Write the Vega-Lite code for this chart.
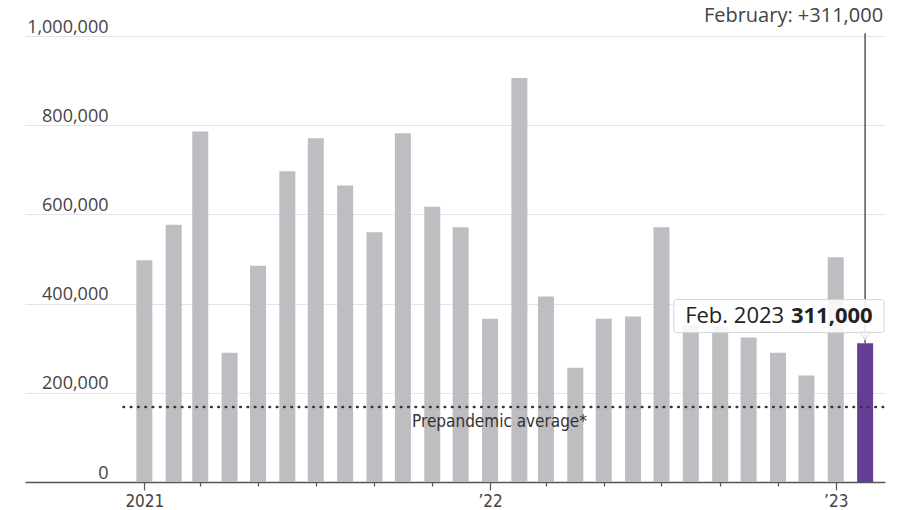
{
  "$schema": "https://vega.github.io/schema/vega-lite/v6.json",
  "width": 860,
  "height": 446,
  "autosize": {"type": "none"},
  "padding": {"left": 25, "top": 36, "right": 15, "bottom": 28},
  "background": "white",
  "config": {"view": {"stroke": null}, "font": "Open Sans"},
  "data": {
    "values": [
      {"date": "2021-01-01T00:00:00", "jobs": 497000},
      {"date": "2021-02-01T00:00:00", "jobs": 577000},
      {"date": "2021-03-01T00:00:00", "jobs": 786000},
      {"date": "2021-04-01T00:00:00", "jobs": 290000},
      {"date": "2021-05-01T00:00:00", "jobs": 485000},
      {"date": "2021-06-01T00:00:00", "jobs": 697000},
      {"date": "2021-07-01T00:00:00", "jobs": 771000},
      {"date": "2021-08-01T00:00:00", "jobs": 665000},
      {"date": "2021-09-01T00:00:00", "jobs": 560000},
      {"date": "2021-10-01T00:00:00", "jobs": 782000},
      {"date": "2021-11-01T00:00:00", "jobs": 617000},
      {"date": "2021-12-01T00:00:00", "jobs": 571000},
      {"date": "2022-01-01T00:00:00", "jobs": 366000},
      {"date": "2022-02-01T00:00:00", "jobs": 906000},
      {"date": "2022-03-01T00:00:00", "jobs": 416000},
      {"date": "2022-04-01T00:00:00", "jobs": 256000},
      {"date": "2022-05-01T00:00:00", "jobs": 366000},
      {"date": "2022-06-01T00:00:00", "jobs": 371000},
      {"date": "2022-07-01T00:00:00", "jobs": 571000},
      {"date": "2022-08-01T00:00:00", "jobs": 352000},
      {"date": "2022-09-01T00:00:00", "jobs": 350000},
      {"date": "2022-10-01T00:00:00", "jobs": 324000},
      {"date": "2022-11-01T00:00:00", "jobs": 290000},
      {"date": "2022-12-01T00:00:00", "jobs": 239000},
      {"date": "2023-01-01T00:00:00", "jobs": 504000},
      {"date": "2023-02-01T00:00:00", "jobs": 311000}
    ]
  },
  "layer": [
    {
      "mark": {"type": "bar", "size": 16},
      "encoding": {
        "x": {
          "field": "date",
          "type": "temporal",
          "scale": {"domain": [{"year": 2020, "month": 8, "date": 28}, {"year": 2023, "month": 2, "date": 22}], "nice": false, "padding": 0},
          "axis": {
            "title": null,
            "grid": false,
            "domain": true,
            "domainColor": "#555555",
            "domainWidth": 1.5,
            "values": [
              {"year": 2021, "month": 1, "date": 1}, {"year": 2021, "month": 2, "date": 1}, {"year": 2021, "month": 3, "date": 1},
              {"year": 2021, "month": 4, "date": 1}, {"year": 2021, "month": 5, "date": 1}, {"year": 2021, "month": 6, "date": 1},
              {"year": 2021, "month": 7, "date": 1}, {"year": 2021, "month": 8, "date": 1}, {"year": 2021, "month": 9, "date": 1},
              {"year": 2021, "month": 10, "date": 1}, {"year": 2021, "month": 11, "date": 1}, {"year": 2021, "month": 12, "date": 1},
              {"year": 2022, "month": 1, "date": 1}, {"year": 2022, "month": 2, "date": 1}, {"year": 2022, "month": 3, "date": 1},
              {"year": 2022, "month": 4, "date": 1}, {"year": 2022, "month": 5, "date": 1}, {"year": 2022, "month": 6, "date": 1},
              {"year": 2022, "month": 7, "date": 1}, {"year": 2022, "month": 8, "date": 1}, {"year": 2022, "month": 9, "date": 1},
              {"year": 2022, "month": 10, "date": 1}, {"year": 2022, "month": 11, "date": 1}, {"year": 2022, "month": 12, "date": 1},
              {"year": 2023, "month": 1, "date": 1}, {"year": 2023, "month": 2, "date": 1}
            ],
            "tickColor": "#555555",
            "tickWidth": 1.2,
            "tickSize": {"condition": {"test": "month(datum.value) == 0", "value": 8}, "value": 4},
            "labelExpr": "month(datum.value) == 0 ? (year(datum.value) == 2021 ? '2021' : '’' + timeFormat(datum.value, '%y')) : ''",
            "labelFont": "'DejaVu Sans Condensed', 'Liberation Sans Narrow', Roboto",
            "labelFontSize": 17,
            "labelColor": "#444444",
            "labelPadding": 3,
            "labelFlush": false,
            "labelOverlap": false,
            "labelBound": false
          }
        },
        "y": {
          "field": "jobs",
          "type": "quantitative",
          "scale": {"domain": [0, 1000000], "nice": false},
          "axis": {
            "title": null,
            "domain": false,
            "ticks": false,
            "grid": true,
            "gridColor": "#e6e3ea",
            "gridWidth": 1,
            "values": [0, 200000, 400000, 600000, 800000, 1000000],
            "format": ",d",
            "labelAlign": "right",
            "labelBaseline": "alphabetic",
            "labelPadding": -83,
            "labelOffset": -4,
            "labelFont": "Open Sans",
            "labelFontSize": 18,
            "labelColor": "#444444",
            "labelFlush": false,
            "labelBound": false,
            "labelOverlap": false
          }
        },
        "color": {
          "condition": {"test": "year(datum.date) == 2023 && month(datum.date) == 1", "value": "#663d95"},
          "value": "#bebdc1"
        }
      }
    },
    {
      "data": {"values": [{}]},
      "mark": {"type": "rule", "color": "#333333", "strokeWidth": 2.6, "strokeDash": [0.5, 6.8], "strokeCap": "round"},
      "encoding": {
        "x": {"datum": {"year": 2020, "month": 12, "date": 10}, "type": "temporal"},
        "x2": {"datum": {"year": 2023, "month": 2, "date": 20}},
        "y": {"datum": 168000, "type": "quantitative"}
      }
    },
    {
      "data": {"values": [{}]},
      "mark": {"type": "text", "text": "Prepandemic average*", "font": "'DejaVu Sans Condensed', 'Liberation Sans Narrow', Roboto", "fontSize": 17, "align": "center", "baseline": "alphabetic", "color": "#333333"},
      "encoding": {
        "x": {"datum": {"year": 2022, "month": 1, "date": 11}, "type": "temporal"},
        "y": {"datum": 123000, "type": "quantitative"}
      }
    },
    {
      "data": {"values": [{}]},
      "mark": {"type": "rule", "color": "#555555", "strokeWidth": 1.5},
      "encoding": {
        "x": {"datum": {"year": 2023, "month": 2, "date": 1}, "type": "temporal"},
        "y": {"datum": 1006000, "type": "quantitative"},
        "y2": {"datum": 311000}
      }
    },
    {
      "data": {"values": [{}]},
      "mark": {"type": "rect", "fill": "white", "fillOpacity": 0.88, "stroke": "#d6d6d6", "strokeWidth": 1, "cornerRadius": 2},
      "encoding": {
        "x": {"datum": {"year": 2022, "month": 7, "date": 14}, "type": "temporal"},
        "x2": {"datum": {"year": 2023, "month": 2, "date": 21}},
        "y": {"datum": 409000, "type": "quantitative"},
        "y2": {"datum": 335000}
      }
    },
    {
      "data": {"values": [{}]},
      "mark": {"type": "point", "shape": "triangle-down", "filled": true, "fill": "white", "fillOpacity": 0.88, "stroke": "#d6d6d6", "strokeWidth": 1, "size": 90},
      "encoding": {
        "x": {"datum": {"year": 2023, "month": 2, "date": 1}, "type": "temporal"},
        "y": {"datum": 327000, "type": "quantitative"}
      }
    },
    {
      "data": {"values": [{}]},
      "mark": {"type": "text", "text": "Feb. 2023", "font": "Open Sans", "fontSize": 22, "align": "left", "baseline": "alphabetic", "color": "#222222"},
      "encoding": {
        "x": {"datum": {"year": 2022, "month": 7, "date": 26}, "type": "temporal"},
        "y": {"datum": 357000, "type": "quantitative"}
      }
    },
    {
      "data": {"values": [{}]},
      "mark": {"type": "text", "text": "311,000", "font": "Open Sans", "fontSize": 22, "fontWeight": "bold", "align": "right", "baseline": "alphabetic", "color": "#222222"},
      "encoding": {
        "x": {"datum": {"year": 2023, "month": 2, "date": 9}, "type": "temporal"},
        "y": {"datum": 357000, "type": "quantitative"}
      }
    },
    {
      "data": {"values": [{}]},
      "mark": {"type": "text", "text": "February: +311,000", "font": "Open Sans", "fontSize": 20, "align": "right", "baseline": "alphabetic", "color": "#444444"},
      "encoding": {
        "x": {"datum": {"year": 2023, "month": 2, "date": 20}, "type": "temporal"},
        "y": {"datum": 1031000, "type": "quantitative"}
      }
    }
  ]
}
